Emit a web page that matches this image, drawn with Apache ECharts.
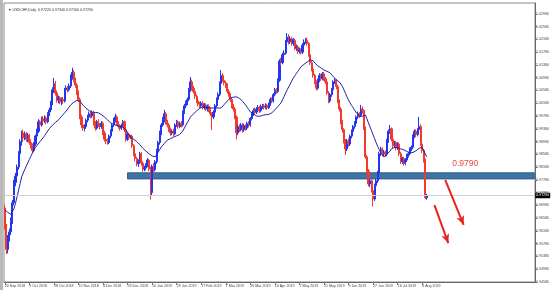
<!DOCTYPE html>
<html><head><meta charset="utf-8">
<script src="https://cdn.jsdelivr.net/npm/echarts@6/dist/echarts.min.js"></script>
<style>html,body{margin:0;padding:0;background:#fff}#c{width:553px;height:290px}</style>
</head><body><div id="c"></div>
<script>
const symbolName = 'USDCHF,Daily';
const dateLabels = ['20 Sep 2018','9 Oct 2018','28 Oct 2018','15 Nov 2018','4 Dec 2018','23 Dec 2018','10 Jan 2019','29 Jan 2019','17 Feb 2019','7 Mar 2019','26 Mar 2019','14 Apr 2019','2 May 2019','21 May 2019','9 Jun 2019','27 Jun 2019','16 Jul 2019','4 Aug 2019'];
const barsPerLabel = 16;
const totalSlots = 346;
// [open, close, low, high]
const ohlc = [
[0.9690,0.9630,0.9622,0.9700],[0.9630,0.9560,0.9545,0.9640],[0.9560,0.9596,0.9548,0.9605],[0.9596,0.9615,0.9585,0.9625],[0.9615,0.9650,0.9605,0.9660],
[0.9650,0.9706,0.9640,0.9715],[0.9706,0.9770,0.9698,0.9778],[0.9770,0.9790,0.9758,0.9800],[0.9790,0.9818,0.9780,0.9826],[0.9818,0.9860,0.9810,0.9868],
[0.9860,0.9898,0.9852,0.9905],[0.9898,0.9925,0.9885,0.9932],[0.9925,0.9910,0.9900,0.9935],[0.9910,0.9922,0.9902,0.9930],[0.9922,0.9905,0.9898,0.9928],
[0.9905,0.9918,0.9896,0.9925],[0.9918,0.9895,0.9888,0.9922],[0.9895,0.9885,0.9876,0.9905],[0.9885,0.9870,0.9862,0.9892],[0.9870,0.9890,0.9865,0.9896],
[0.9890,0.9915,0.9884,0.9920],[0.9915,0.9930,0.9906,0.9938],[0.9930,0.9960,0.9925,0.9968],[0.9960,0.9950,0.9942,0.9965],[0.9950,0.9970,0.9945,0.9976],
[0.9970,0.9962,0.9955,0.9978],[0.9962,0.9972,0.9956,0.9980],[0.9972,0.9960,0.9952,0.9978],[0.9960,0.9985,0.9955,0.9990],[0.9985,0.9997,0.9978,1.0004],
[0.9997,1.0019,0.9990,1.0025],[1.0019,1.0060,1.0012,1.0068],[1.0060,1.0080,1.0050,1.0097],[1.0080,1.0050,1.0042,1.0088],[1.0050,1.0028,1.0020,1.0058],
[1.0028,1.0035,1.0018,1.0042],[1.0035,1.0022,1.0015,1.0040],[1.0022,1.0030,1.0012,1.0036],[1.0030,1.0025,1.0016,1.0038],[1.0025,1.0060,1.0020,1.0066],
[1.0060,1.0066,1.0050,1.0074],[1.0066,1.0060,1.0052,1.0072],[1.0060,1.0072,1.0055,1.0080],[1.0072,1.0100,1.0066,1.0108],[1.0100,1.0115,1.0092,1.0129],
[1.0115,1.0090,1.0084,1.0122],[1.0090,1.0075,1.0066,1.0098],[1.0075,1.0050,1.0044,1.0082],[1.0050,1.0030,1.0022,1.0058],[1.0030,0.9975,0.9968,1.0036],
[0.9975,0.9950,0.9940,0.9982],[0.9950,0.9940,0.9932,0.9958],[0.9940,0.9945,0.9930,0.9952],[0.9945,0.9965,0.9938,0.9970],[0.9965,0.9975,0.9958,0.9982],
[0.9975,0.9985,0.9968,0.9992],[0.9985,0.9978,0.9970,0.9992],[0.9978,0.9988,0.9972,0.9995],[0.9988,0.9955,0.9948,0.9994],[0.9955,0.9940,0.9932,0.9962],
[0.9940,0.9960,0.9935,0.9966],[0.9960,0.9950,0.9944,0.9968],[0.9950,0.9945,0.9936,0.9956],[0.9945,0.9955,0.9938,0.9962],[0.9955,0.9925,0.9918,0.9960],
[0.9925,0.9905,0.9898,0.9932],[0.9905,0.9900,0.9890,0.9912],[0.9900,0.9895,0.9888,0.9908],[0.9895,0.9915,0.9890,0.9920],[0.9915,0.9930,0.9908,0.9936],
[0.9930,0.9950,0.9924,0.9956],[0.9950,0.9965,0.9944,0.9972],[0.9965,0.9975,0.9958,0.9985],[0.9975,0.9955,0.9948,0.9980],[0.9955,0.9945,0.9938,0.9962],
[0.9945,0.9940,0.9932,0.9952],[0.9940,0.9948,0.9934,0.9954],[0.9948,0.9960,0.9942,0.9966],[0.9960,0.9935,0.9928,0.9964],[0.9935,0.9905,0.9898,0.9940],
[0.9905,0.9920,0.9900,0.9926],[0.9920,0.9910,0.9904,0.9924],[0.9910,0.9915,0.9906,0.9918],[0.9915,0.9885,0.9878,0.9920],[0.9885,0.9860,0.9852,0.9890],
[0.9860,0.9845,0.9836,0.9866],[0.9845,0.9828,0.9820,0.9850],[0.9828,0.9835,0.9818,0.9842],[0.9835,0.9860,0.9828,0.9866],[0.9860,0.9830,0.9822,0.9865],
[0.9830,0.9812,0.9804,0.9836],[0.9812,0.9815,0.9805,0.9822],[0.9815,0.9825,0.9808,0.9830],[0.9825,0.9840,0.9818,0.9846],[0.9840,0.9812,0.9805,0.9844],
[0.9812,0.9738,0.9716,0.9820],[0.9738,0.9820,0.9730,0.9826],[0.9820,0.9810,0.9800,0.9830],[0.9810,0.9835,0.9805,0.9840],[0.9835,0.9870,0.9828,0.9875],
[0.9870,0.9895,0.9862,0.9900],[0.9895,0.9925,0.9888,0.9932],[0.9925,0.9950,0.9918,0.9956],[0.9950,0.9966,0.9944,0.9975],[0.9966,0.9985,0.9958,0.9997],
[0.9985,0.9960,0.9952,0.9990],[0.9960,0.9950,0.9942,0.9966],[0.9950,0.9935,0.9928,0.9956],[0.9935,0.9925,0.9916,0.9942],[0.9925,0.9930,0.9918,0.9936],
[0.9930,0.9922,0.9914,0.9938],[0.9922,0.9950,0.9918,0.9955],[0.9950,0.9960,0.9944,0.9966],[0.9960,0.9945,0.9938,0.9964],[0.9945,0.9955,0.9940,0.9960],
[0.9955,0.9950,0.9942,0.9962],[0.9950,0.9990,0.9945,0.9995],[0.9990,1.0010,0.9984,1.0016],[1.0010,1.0020,1.0002,1.0026],[1.0020,1.0030,1.0012,1.0036],
[1.0030,1.0060,1.0024,1.0066],[1.0060,1.0085,1.0054,1.0100],[1.0085,1.0065,1.0058,1.0092],[1.0065,1.0055,1.0048,1.0072],[1.0055,1.0040,1.0032,1.0060],
[1.0040,1.0025,1.0018,1.0046],[1.0025,1.0015,1.0008,1.0030],[1.0015,1.0010,1.0002,1.0022],[1.0010,1.0018,1.0004,1.0024],[1.0018,1.0005,0.9998,1.0024],
[1.0005,1.0012,0.9998,1.0018],[1.0012,1.0000,0.9994,1.0018],[1.0000,1.0008,0.9992,1.0014],[1.0008,0.9998,0.9990,1.0014],[0.9998,0.9985,0.9978,1.0004],
[0.9985,0.9975,0.9934,0.9990],[0.9975,0.9990,0.9968,0.9996],[0.9990,1.0010,0.9984,1.0016],[1.0010,1.0030,1.0004,1.0036],[1.0030,1.0045,1.0022,1.0052],
[1.0045,1.0080,1.0040,1.0086],[1.0080,1.0105,1.0074,1.0122],[1.0105,1.0090,1.0084,1.0112],[1.0090,1.0082,1.0074,1.0098],[1.0082,1.0075,1.0066,1.0088],
[1.0075,1.0055,1.0048,1.0080],[1.0055,1.0045,1.0038,1.0062],[1.0045,1.0030,1.0022,1.0050],[1.0030,1.0010,1.0002,1.0036],[1.0010,1.0000,0.9992,1.0016],
[1.0000,0.9975,0.9968,1.0006],[0.9975,0.9925,0.9905,0.9980],[0.9925,0.9945,0.9918,0.9950],[0.9945,0.9935,0.9928,0.9952],[0.9935,0.9950,0.9930,0.9956],
[0.9950,0.9935,0.9926,0.9956],[0.9935,0.9948,0.9928,0.9954],[0.9948,0.9940,0.9932,0.9952],[0.9940,0.9955,0.9934,0.9960],[0.9955,0.9950,0.9942,0.9962],
[0.9950,0.9970,0.9945,0.9975],[0.9970,0.9985,0.9964,0.9990],[0.9985,0.9995,0.9978,1.0002],[0.9995,0.9990,0.9982,1.0004],[0.9990,1.0000,0.9984,1.0006],
[1.0000,1.0005,0.9994,1.0012],[1.0005,0.9995,0.9988,1.0010],[0.9995,1.0008,0.9990,1.0014],[1.0008,1.0010,1.0000,1.0016],[1.0010,1.0005,0.9998,1.0016],
[1.0005,1.0012,0.9999,1.0018],[1.0012,1.0004,0.9997,1.0016],
[1.0004,1.0015,1.0000,1.0020],[1.0015,1.0030,1.0010,1.0036],[1.0030,1.0025,1.0018,1.0036],[1.0025,1.0045,1.0020,1.0050],[1.0045,1.0060,1.0040,1.0066],
[1.0060,1.0055,1.0048,1.0066],[1.0055,1.0090,1.0050,1.0096],[1.0090,1.0150,1.0085,1.0156],[1.0150,1.0145,1.0136,1.0160],[1.0145,1.0170,1.0140,1.0176],
[1.0170,1.0175,1.0160,1.0184],[1.0175,1.0210,1.0170,1.0216],[1.0210,1.0225,1.0202,1.0238],[1.0225,1.0210,1.0202,1.0234],[1.0210,1.0220,1.0204,1.0228],
[1.0220,1.0205,1.0198,1.0226],[1.0205,1.0215,1.0198,1.0222],[1.0215,1.0190,1.0184,1.0220],[1.0190,1.0195,1.0182,1.0202],[1.0195,1.0180,1.0172,1.0200],
[1.0180,1.0185,1.0174,1.0192],[1.0185,1.0178,1.0170,1.0190],[1.0178,1.0200,1.0172,1.0206],[1.0200,1.0210,1.0194,1.0218],[1.0210,1.0215,1.0204,1.0222],
[1.0215,1.0205,1.0198,1.0224],[1.0205,1.0170,1.0164,1.0210],[1.0170,1.0145,1.0138,1.0176],[1.0145,1.0125,1.0118,1.0150],[1.0125,1.0105,1.0098,1.0130],
[1.0105,1.0085,1.0078,1.0110],[1.0085,1.0065,1.0058,1.0090],[1.0065,1.0090,1.0060,1.0095],[1.0090,1.0105,1.0084,1.0112],[1.0105,1.0095,1.0088,1.0110],
[1.0095,1.0110,1.0090,1.0116],[1.0110,1.0095,1.0088,1.0116],[1.0095,1.0085,1.0078,1.0100],[1.0085,1.0050,1.0044,1.0090],[1.0050,1.0025,1.0018,1.0056],
[1.0025,1.0045,1.0020,1.0050],[1.0045,1.0060,1.0038,1.0066],[1.0060,1.0085,1.0054,1.0090],[1.0085,1.0090,1.0078,1.0096],[1.0090,1.0070,1.0062,1.0094],
[1.0070,1.0025,1.0018,1.0076],[1.0025,1.0000,0.9992,1.0030],[1.0000,0.9960,0.9952,1.0006],[0.9960,0.9935,0.9926,0.9966],[0.9935,0.9900,0.9892,0.9940],
[0.9900,0.9875,0.9856,0.9906],[0.9875,0.9900,0.9868,0.9906],[0.9900,0.9890,0.9882,0.9908],[0.9890,0.9915,0.9884,0.9920],[0.9915,0.9930,0.9908,0.9936],
[0.9930,0.9945,0.9924,0.9950],[0.9945,0.9955,0.9938,0.9962],[0.9955,0.9975,0.9948,0.9980],[0.9975,0.9985,0.9968,0.9992],[0.9985,0.9980,0.9972,0.9990],
[0.9980,1.0000,0.9975,1.0013],[1.0000,0.9995,0.9986,1.0008],[0.9995,0.9940,0.9934,1.0000],[0.9940,0.9850,0.9844,0.9945],[0.9850,0.9805,0.9798,0.9856],
[0.9805,0.9765,0.9758,0.9812],[0.9765,0.9775,0.9755,0.9782],[0.9775,0.9745,0.9738,0.9780],[0.9745,0.9718,0.9695,0.9750],[0.9718,0.9760,0.9712,0.9766],
[0.9760,0.9775,0.9752,0.9782],[0.9775,0.9800,0.9768,0.9806],[0.9800,0.9860,0.9794,0.9866],[0.9860,0.9875,0.9852,0.9882],[0.9875,0.9860,0.9852,0.9880],
[0.9860,0.9865,0.9852,0.9872],[0.9865,0.9858,0.9850,0.9870],[0.9858,0.9900,0.9852,0.9906],[0.9900,0.9930,0.9894,0.9936],[0.9930,0.9938,0.9922,0.9950],
[0.9938,0.9905,0.9898,0.9942],[0.9905,0.9885,0.9878,0.9910],[0.9885,0.9895,0.9878,0.9900],[0.9895,0.9878,0.9870,0.9900],[0.9878,0.9890,0.9872,0.9896],
[0.9890,0.9860,0.9852,0.9895],[0.9860,0.9835,0.9828,0.9866],[0.9835,0.9845,0.9828,0.9850],[0.9845,0.9830,0.9822,0.9850],[0.9830,0.9840,0.9824,0.9846],
[0.9840,0.9855,0.9834,0.9860],[0.9855,0.9860,0.9848,0.9866],[0.9860,0.9875,0.9854,0.9880],[0.9875,0.9880,0.9868,0.9886],[0.9880,0.9915,0.9875,0.9920],
[0.9915,0.9930,0.9908,0.9936],[0.9930,0.9920,0.9912,0.9936],[0.9920,0.9935,0.9914,0.9940],[0.9935,0.9945,0.9928,0.9975],[0.9945,0.9890,0.9884,0.9952],
[0.9890,0.9870,0.9862,0.9896],[0.9870,0.9840,0.9832,0.9874],[0.9840,0.9722,0.9718,0.9845],[0.9722,0.9729,0.9716,0.9734]
];
const maValues = [
0.9684,0.9680,0.9676,0.9672,0.9670,0.9670,0.9688,0.9705,0.9725,0.9746,
0.9766,0.9787,0.9799,0.9810,0.9821,0.9831,0.9842,0.9852,0.9862,0.9872,
0.9879,0.9886,0.9892,0.9898,0.9903,0.9910,0.9917,0.9924,0.9931,0.9938,
0.9944,0.9949,0.9953,0.9958,0.9962,0.9966,0.9971,0.9977,0.9983,0.9988,
0.9994,1.0000,1.0006,1.0013,1.0017,1.0021,1.0024,1.0027,1.0028,1.0024,
1.0018,1.0012,1.0006,1.0002,0.9998,0.9995,0.9991,0.9990,0.9990,0.9989,
0.9989,0.9988,0.9985,0.9982,0.9978,0.9975,0.9970,0.9966,0.9961,0.9956,
0.9954,0.9952,0.9950,0.9948,0.9947,0.9946,0.9944,0.9943,0.9941,0.9934,
0.9927,0.9919,0.9912,0.9908,0.9905,0.9901,0.9898,0.9894,0.9888,0.9883,
0.9877,0.9872,0.9868,0.9864,0.9860,0.9856,0.9853,0.9851,0.9850,0.9857,
0.9865,0.9873,0.9881,0.9887,0.9892,0.9898,0.9903,0.9905,0.9907,0.9910,
0.9912,0.9914,0.9916,0.9918,0.9920,0.9922,0.9931,0.9940,0.9949,0.9958,
0.9966,0.9975,0.9980,0.9985,0.9989,0.9994,0.9998,1.0002,1.0006,1.0006,
1.0005,1.0005,1.0004,1.0004,1.0003,1.0003,1.0003,1.0003,1.0003,1.0003,
1.0003,1.0003,1.0008,1.0014,1.0020,1.0025,1.0030,1.0035,1.0036,1.0037,
1.0038,1.0038,1.0038,1.0033,1.0029,1.0024,1.0019,1.0012,1.0005,0.9998,
0.9991,0.9988,0.9985,0.9981,0.9978,0.9975,0.9977,0.9978,0.9980,0.9981,
0.9982,0.9982,
0.9983,0.9986,0.9988,0.9991,0.9997,1.0002,1.0008,1.0013,1.0019,1.0029,
1.0039,1.0050,1.0060,1.0069,1.0078,1.0088,1.0097,1.0104,1.0111,1.0118,
1.0125,1.0132,1.0136,1.0140,1.0143,1.0147,1.0150,1.0154,1.0157,1.0151,
1.0144,1.0138,1.0135,1.0132,1.0129,1.0125,1.0122,1.0120,1.0118,1.0115,
1.0113,1.0108,1.0102,1.0097,1.0091,1.0088,1.0085,1.0082,1.0071,1.0060,
1.0049,1.0038,1.0028,1.0019,1.0011,1.0004,0.9996,0.9988,0.9984,0.9979,
0.9975,0.9977,0.9979,0.9981,0.9969,0.9956,0.9944,0.9932,0.9919,0.9907,
0.9894,0.9883,0.9873,0.9862,0.9856,0.9850,0.9854,0.9858,0.9862,0.9868,
0.9875,0.9881,0.9880,0.9879,0.9878,0.9877,0.9875,0.9874,0.9872,0.9870,
0.9867,0.9865,0.9862,0.9863,0.9864,0.9865,0.9869,0.9873,0.9877,0.9881,
0.9880,0.9878,0.9859,0.9850
];
const yMin = 0.9458, yMax = 1.0332, yStep = 0.0040;
const levelLabel = '0.9790';
const levelBand = [0.9781, 0.9800];
const levelStartSlot = 80;
const labelSlot = 300, labelPrice = 0.9828;
const arrows = [[[287, 0.9778], [299, 0.9637]], [[280, 0.9699], [289, 0.9580]]];

const categories = Array.from({length: totalSlots}, (_, i) => String(i));
const last = ohlc[ohlc.length - 1];
const FONT = 'Liberation Sans';
const TXT = 3.6;
const isLabelSlot = i => i % barsPerLabel === 0 && i / barsPerLabel < dateLabels.length;

const chart = echarts.init(document.getElementById('c'), null, {renderer: 'canvas'});
chart.setOption({
  animation: false,
  backgroundColor: '#ffffff',
  title: {
    text: '\u25BC ' + symbolName + '  ' + [last[0], last[3], last[2], last[1]].map(v => v.toFixed(5)).join(' '),
    left: 3, top: 3,
    textStyle: {fontSize: TXT, fontWeight: 'normal', color: '#333', fontFamily: FONT}
  },
  graphic: [{type: 'rect', shape: {x: 0, y: 0, width: 3, height: 290}, style: {fill: '#b8b8b8'}, silent: true}],
  grid: {left: 4, right: 18, top: 3, bottom: 8, show: true, borderColor: '#8a8a8a', borderWidth: 1, containLabel: false, outerBoundsMode: 'none'},
  xAxis: {
    type: 'category', data: categories, boundaryGap: true,
    axisLine: {lineStyle: {color: '#666', width: 1}},
    axisTick: {show: true, alignWithLabel: true, interval: isLabelSlot, length: 3, lineStyle: {color: '#777'}},
    axisLabel: {
      interval: isLabelSlot, align: 'left', margin: 1.5, fontSize: TXT, color: '#444', fontFamily: FONT,
      showMinLabel: true, hideOverlap: false,
      formatter: (v, i) => dateLabels[i / barsPerLabel] || ''
    },
    splitLine: {show: false}
  },
  yAxis: {
    type: 'value', position: 'right', min: yMin, max: yMax, interval: yStep, scale: true,
    axisLine: {show: true, lineStyle: {color: '#666'}},
    axisTick: {show: true, length: 2, lineStyle: {color: '#777'}},
    axisLabel: {fontSize: TXT, margin: 1, color: '#444', fontFamily: FONT, showMaxLabel: false, formatter: v => v.toFixed(5)},
    splitLine: {show: false}
  },
  series: [
    {
      type: 'candlestick', data: ohlc, barWidth: 1.6,
      itemStyle: {color: '#2435ef', color0: '#f23a2c', borderColor: '#2435ef', borderColor0: '#f23a2c', borderWidth: 1},
      markArea: {
        silent: true,
        itemStyle: {color: '#3f74a3', borderColor: '#2f5d88', borderWidth: 1},
        data: [[{xAxis: String(levelStartSlot), yAxis: levelBand[0]}, {xAxis: String(totalSlots - 1), yAxis: levelBand[1]}]]
      },
      markPoint: {
        silent: true, symbol: 'circle', symbolSize: 0,
        label: {show: true, formatter: levelLabel, color: '#e5493c', fontSize: 8.5, fontFamily: FONT},
        data: [{coord: [String(labelSlot), labelPrice]}]
      }
    },
    {
      type: 'line', data: maValues, symbol: 'none', smooth: false,
      lineStyle: {color: '#2323a6', width: 1}, z: 3
    },
    {
      type: 'line', data: [], symbol: 'none',
      markLine: {
        silent: true, symbol: ['none', 'none'],
        lineStyle: {color: '#d0d0d0', width: 1, type: 'solid'},
        label: {show: true, position: 'end', distance: 1, formatter: () => last[1].toFixed(5), backgroundColor: '#000', color: '#fff', fontSize: TXT, padding: [1, 1, 0.5, 1], fontFamily: FONT},
        data: [[{coord: ['0', last[1]]}, {coord: [String(totalSlots - 1), last[1]]}]]
      },
      z: 1
    },
    {
      type: 'line', data: [], symbol: 'none',
      markLine: {
        silent: true, symbol: ['none', 'arrow'], symbolSize: [6, 9],
        lineStyle: {color: '#e8231f', width: 2, type: 'solid'},
        label: {show: false},
        data: arrows.map(a => [{coord: [String(a[0][0]), a[0][1]]}, {coord: [String(a[1][0]), a[1][1]]}])
      }
    }
  ]
});
</script></body></html>
